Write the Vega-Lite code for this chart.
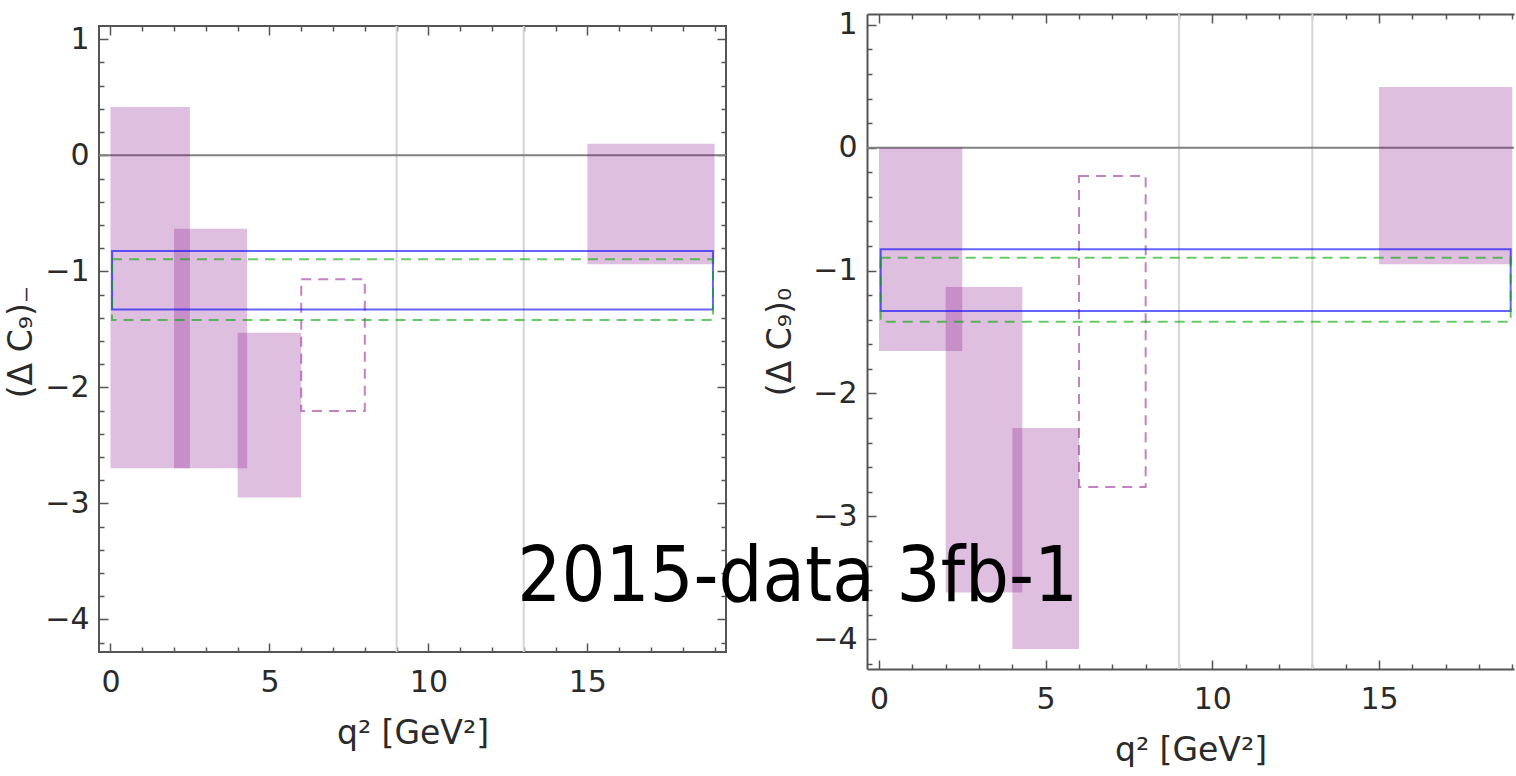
{
  "$schema": "https://vega.github.io/schema/vega-lite/v6.json",
  "background": "white",
  "padding": {"left": 5, "top": 9, "right": 0, "bottom": 0},
  "spacing": 141,
  "bounds": "flush",
  "datasets": {
    "vlines": [{"q2": 9}, {"q2": 13}],
    "leftBoxes": [
      {"q2lo": 0, "q2hi": 2.5, "lo": -2.698, "hi": 0.416},
      {"q2lo": 2, "q2hi": 4.3, "lo": -2.698, "hi": -0.633},
      {"q2lo": 4, "q2hi": 6, "lo": -2.95, "hi": -1.529},
      {"q2lo": 15, "q2hi": 19, "lo": -0.94, "hi": 0.1}
    ],
    "leftDashed": [{"q2lo": 6, "q2hi": 8, "lo": -2.204, "hi": -1.069}],
    "leftBlue": [{"q2lo": 0.05, "q2hi": 18.95, "lo": -1.33, "hi": -0.825}],
    "leftGreen": [{"q2lo": 0.05, "q2hi": 18.95, "lo": -1.42, "hi": -0.897}],
    "rightBoxes": [
      {"q2lo": 0, "q2hi": 2.5, "lo": -1.655, "hi": 0},
      {"q2lo": 2, "q2hi": 4.3, "lo": -3.62, "hi": -1.133},
      {"q2lo": 4, "q2hi": 6, "lo": -4.08, "hi": -2.28},
      {"q2lo": 15, "q2hi": 19, "lo": -0.949, "hi": 0.494}
    ],
    "rightDashed": [{"q2lo": 6, "q2hi": 8, "lo": -2.76, "hi": -0.23}],
    "rightBlue": [{"q2lo": 0.05, "q2hi": 18.95, "lo": -1.329, "hi": -0.827}],
    "rightGreen": [{"q2lo": 0.05, "q2hi": 18.95, "lo": -1.416, "hi": -0.895}]
  },
  "hconcat": [
    {
      "width": 627,
      "height": 655,
      "layer": [
        {
          "data": {"values": [{}]},
          "mark": {"type": "rect", "filled": false, "stroke": "#555555", "strokeWidth": 2},
          "encoding": {
            "x": {"datum": -0.36, "type": "quantitative", "scale": {"domain": [-0.36, 19.36], "nice": false, "zero": false}, "axis": null},
            "x2": {"datum": 19.36},
            "y": {"datum": -4.282, "type": "quantitative", "scale": {"domain": [-4.428, 1.218], "nice": false, "zero": false}, "axis": null},
            "y2": {"datum": 1.115}
          }
        },
        {
          "data": {"name": "vlines"},
          "mark": {"type": "rule", "color": "#d6d6d6", "strokeWidth": 2},
          "encoding": {
            "x": {"field": "q2", "type": "quantitative", "scale": {"domain": [-0.36, 19.36], "nice": false, "zero": false}, "axis": null},
            "y": {"datum": -4.282, "type": "quantitative", "scale": {"domain": [-4.428, 1.218], "nice": false, "zero": false}, "axis": null},
            "y2": {"datum": 1.115}
          }
        },
        {
          "data": {"values": [{}]},
          "mark": {"type": "rule", "color": "#808080", "strokeWidth": 2},
          "encoding": {
            "y": {"datum": 0, "type": "quantitative", "scale": {"domain": [-4.428, 1.218], "nice": false, "zero": false}, "axis": null}
          }
        },
        {
          "data": {"name": "leftBoxes"},
          "mark": {"type": "rect", "fill": "#800080", "fillOpacity": 0.25, "strokeWidth": 0},
          "encoding": {
            "x": {"field": "q2lo", "type": "quantitative", "scale": {"domain": [-0.36, 19.36], "nice": false, "zero": false},
                  "axis": {"orient": "bottom", "values": [0, 5, 10, 15], "tickSize": -9, "labelPadding": 24, "offset": -17, "domain": false, "title": "q² [GeV²]", "titlePadding": 20}},
            "x2": {"field": "q2hi"},
            "y": {"field": "lo", "type": "quantitative", "scale": {"domain": [-4.428, 1.218], "nice": false, "zero": false},
                  "axis": {"orient": "left", "values": [-4, -3, -2, -1, 0, 1], "tickSize": -9, "labelPadding": 19, "domain": false, "title": "(Δ C₉)₋", "titlePadding": 6}},
            "y2": {"field": "hi"}
          }
        },
        {
          "data": {"name": "leftDashed"},
          "mark": {"type": "rect", "filled": false, "stroke": "#9a309a", "strokeOpacity": 0.6, "strokeWidth": 2, "strokeDash": [10, 7]},
          "encoding": {
            "x": {"field": "q2lo", "type": "quantitative", "scale": {"domain": [-0.36, 19.36], "nice": false, "zero": false},
                  "axis": {"orient": "bottom", "values": [1, 2, 3, 4, 6, 7, 8, 9, 11, 12, 13, 14, 16, 17, 18, 19], "tickSize": -5, "labels": false, "offset": -17, "domain": false, "title": null}},
            "x2": {"field": "q2hi"},
            "y": {"field": "lo", "type": "quantitative", "scale": {"domain": [-4.428, 1.218], "nice": false, "zero": false},
                  "axis": {"orient": "left", "values": [-4.2, -3.8, -3.6, -3.4, -3.2, -2.8, -2.6, -2.4, -2.2, -1.8, -1.6, -1.4, -1.2, -0.8, -0.6, -0.4, -0.2, 0.2, 0.4, 0.6, 0.8], "tickSize": -5, "labels": false, "domain": false, "title": null}},
            "y2": {"field": "hi"}
          }
        },
        {
          "data": {"name": "leftBlue"},
          "mark": {"type": "rect", "filled": false, "stroke": "#0000ff", "strokeOpacity": 0.6, "strokeWidth": 2},
          "encoding": {
            "x": {"field": "q2lo", "type": "quantitative", "scale": {"domain": [-0.36, 19.36], "nice": false, "zero": false},
                  "axis": {"orient": "top", "values": [0, 5, 10, 15], "tickSize": -9, "labels": false, "offset": -12, "domain": false, "title": null}},
            "x2": {"field": "q2hi"},
            "y": {"field": "lo", "type": "quantitative", "scale": {"domain": [-4.428, 1.218], "nice": false, "zero": false},
                  "axis": {"orient": "right", "values": [-4, -3, -2, -1, 0, 1], "tickSize": -9, "labels": false, "domain": false, "title": null}},
            "y2": {"field": "hi"}
          }
        },
        {
          "data": {"name": "leftGreen"},
          "mark": {"type": "rect", "filled": false, "stroke": "#00aa00", "strokeOpacity": 0.6, "strokeWidth": 2, "strokeDash": [10, 7]},
          "encoding": {
            "x": {"field": "q2lo", "type": "quantitative", "scale": {"domain": [-0.36, 19.36], "nice": false, "zero": false},
                  "axis": {"orient": "top", "values": [1, 2, 3, 4, 6, 7, 8, 9, 11, 12, 13, 14, 16, 17, 18, 19], "tickSize": -5, "labels": false, "offset": -12, "domain": false, "title": null}},
            "x2": {"field": "q2hi"},
            "y": {"field": "lo", "type": "quantitative", "scale": {"domain": [-4.428, 1.218], "nice": false, "zero": false},
                  "axis": {"orient": "right", "values": [-4.2, -3.8, -3.6, -3.4, -3.2, -2.8, -2.6, -2.4, -2.2, -1.8, -1.6, -1.4, -1.2, -0.8, -0.6, -0.4, -0.2, 0.2, 0.4, 0.6, 0.8], "tickSize": -5, "labels": false, "domain": false, "title": null}},
            "y2": {"field": "hi"}
          }
        }
      ],
      "resolve": {"axis": {"x": "independent", "y": "independent"}}
    },
    {
      "width": 647,
      "height": 655,
      "layer": [
        {
          "data": {"name": "vlines"},
          "mark": {"type": "rule", "color": "#d6d6d6", "strokeWidth": 2},
          "encoding": {
            "x": {"field": "q2", "type": "quantitative", "scale": {"domain": [-0.36, 19.05], "nice": false, "zero": false}, "axis": null}
          }
        },
        {
          "data": {"values": [{}]},
          "mark": {"type": "rule", "color": "#808080", "strokeWidth": 2},
          "encoding": {
            "y": {"datum": 0, "type": "quantitative", "scale": {"domain": [-4.242, 1.088], "nice": false, "zero": false}, "axis": null}
          }
        },
        {
          "data": {"name": "rightBoxes"},
          "mark": {"type": "rect", "fill": "#800080", "fillOpacity": 0.25, "strokeWidth": 0},
          "encoding": {
            "x": {"field": "q2lo", "type": "quantitative", "scale": {"domain": [-0.36, 19.05], "nice": false, "zero": false},
                  "axis": {"orient": "bottom", "values": [0, 5, 10, 15], "tickSize": -9, "labelPadding": 24, "domain": true, "title": "q² [GeV²]", "titlePadding": 20}},
            "x2": {"field": "q2hi"},
            "y": {"field": "lo", "type": "quantitative", "scale": {"domain": [-4.242, 1.088], "nice": false, "zero": false},
                  "axis": {"orient": "left", "values": [-4, -3, -2, -1, 0, 1], "tickSize": -9, "labelPadding": 19, "domain": true, "title": "(Δ C₉)₀", "titlePadding": 15}},
            "y2": {"field": "hi"}
          }
        },
        {
          "data": {"name": "rightDashed"},
          "mark": {"type": "rect", "filled": false, "stroke": "#9a309a", "strokeOpacity": 0.6, "strokeWidth": 2, "strokeDash": [10, 7]},
          "encoding": {
            "x": {"field": "q2lo", "type": "quantitative", "scale": {"domain": [-0.36, 19.05], "nice": false, "zero": false},
                  "axis": {"orient": "bottom", "values": [1, 2, 3, 4, 6, 7, 8, 9, 11, 12, 13, 14, 16, 17, 18, 19], "tickSize": -5, "labels": false, "domain": false, "title": null}},
            "x2": {"field": "q2hi"},
            "y": {"field": "lo", "type": "quantitative", "scale": {"domain": [-4.242, 1.088], "nice": false, "zero": false},
                  "axis": {"orient": "left", "values": [-4.2, -3.8, -3.6, -3.4, -3.2, -2.8, -2.6, -2.4, -2.2, -1.8, -1.6, -1.4, -1.2, -0.8, -0.6, -0.4, -0.2, 0.2, 0.4, 0.6, 0.8], "tickSize": -5, "labels": false, "domain": false, "title": null}},
            "y2": {"field": "hi"}
          }
        },
        {
          "data": {"name": "rightBlue"},
          "mark": {"type": "rect", "filled": false, "stroke": "#0000ff", "strokeOpacity": 0.6, "strokeWidth": 2},
          "encoding": {
            "x": {"field": "q2lo", "type": "quantitative", "scale": {"domain": [-0.36, 19.05], "nice": false, "zero": false},
                  "axis": {"orient": "top", "values": [0, 5, 10, 15], "tickSize": -9, "labels": false, "domain": true, "title": null}},
            "x2": {"field": "q2hi"},
            "y": {"field": "lo", "type": "quantitative", "scale": {"domain": [-4.242, 1.088], "nice": false, "zero": false}, "axis": null},
            "y2": {"field": "hi"}
          }
        },
        {
          "data": {"name": "rightGreen"},
          "mark": {"type": "rect", "filled": false, "stroke": "#00aa00", "strokeOpacity": 0.6, "strokeWidth": 2, "strokeDash": [10, 7]},
          "encoding": {
            "x": {"field": "q2lo", "type": "quantitative", "scale": {"domain": [-0.36, 19.05], "nice": false, "zero": false},
                  "axis": {"orient": "top", "values": [1, 2, 3, 4, 6, 7, 8, 9, 11, 12, 13, 14, 16, 17, 18, 19], "tickSize": -5, "labels": false, "domain": false, "title": null}},
            "x2": {"field": "q2hi"},
            "y": {"field": "lo", "type": "quantitative", "scale": {"domain": [-4.242, 1.088], "nice": false, "zero": false}, "axis": null},
            "y2": {"field": "hi"}
          }
        },
        {
          "data": {"values": [{}]},
          "mark": {"type": "text", "text": "2015-data 3fb-1", "font": "DejaVu Sans Condensed, DejaVu Sans", "fontSize": 77, "color": "black", "align": "left", "baseline": "alphabetic"},
          "encoding": {
            "x": {"datum": -10.85, "type": "quantitative", "scale": {"domain": [-0.36, 19.05], "nice": false, "zero": false}, "axis": null},
            "y": {"datum": -3.69, "type": "quantitative", "scale": {"domain": [-4.242, 1.088], "nice": false, "zero": false}, "axis": null}
          }
        }
      ],
      "resolve": {"axis": {"x": "independent", "y": "independent"}}
    }
  ],
  "config": {
    "view": {"stroke": null},
    "font": "DejaVu Sans",
    "axis": {
      "grid": false,
      "labelFont": "DejaVu Sans",
      "labelFontSize": 30,
      "labelColor": "#2a2a2a",
      "titleFont": "DejaVu Sans",
      "titleFontSize": 33,
      "titleFontWeight": "normal",
      "titleColor": "#2a2a2a",
      "tickColor": "#555555",
      "tickWidth": 1.5,
      "domainColor": "#555555",
      "domainWidth": 2
    }
  }
}
